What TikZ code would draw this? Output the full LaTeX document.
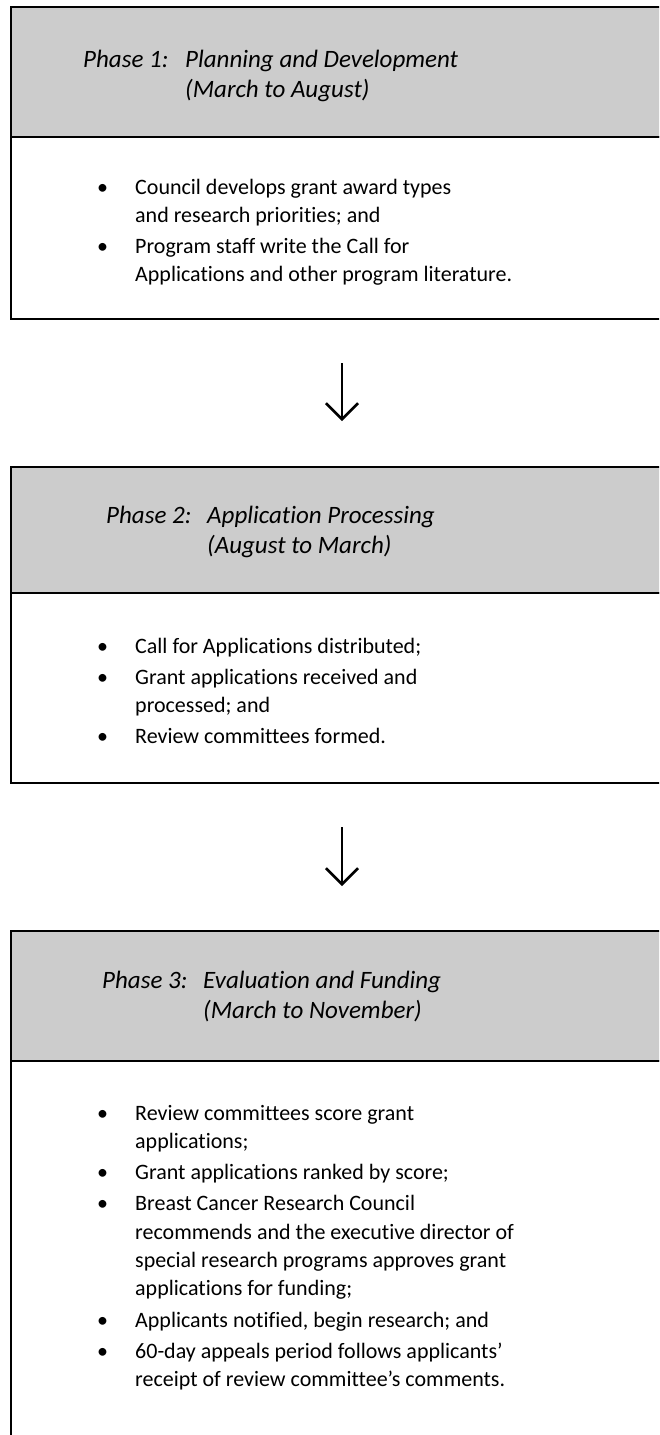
\documentclass[tikz,border=0pt]{standalone}
\usepackage{fontspec}
\setmainfont{Carlito}[Ligatures={TeX,NoCommon}]
\usetikzlibrary{arrows.meta}
\definecolor{headgray}{RGB}{204,204,204}
\begin{document}
\begin{tikzpicture}[x=1pt, y=1pt,
    phasehead/.style={draw, fill=headgray, line width=2pt, anchor=north west, minimum width=700pt, inner sep=0pt, outer sep=0pt},
    phasebody/.style={draw, line width=2pt, anchor=north west, minimum width=700pt, inner sep=0pt, outer sep=0pt},
    headtext/.style={anchor=base west, inner sep=0pt, font=\fontsize{25}{30.5}\selectfont\itshape},
    bodytext/.style={anchor=base west, inner sep=0pt, font=\fontsize{22}{28.3}\selectfont},
    flowarrow/.style={line width=2.5pt, -{Straight Barb[length=16pt, width=32pt, line width=2.5pt]}}]
    \useasboundingbox (0,0) rectangle (659,-1435);
    \clip (0,0) rectangle (659,-1435);
    \node[phasehead, minimum height=130pt] (head1) at (11,-7) {};
    \node[phasebody, minimum height=182pt] (body1) at (head1.south west) {};
    \node[phasehead, minimum height=126pt] (head2) at (11,-467) {};
    \node[phasebody, minimum height=190pt] (body2) at (head2.south west) {};
    \node[phasehead, minimum height=130pt] (head3) at (11,-931) {};
    \node[phasebody, minimum height=420pt] (body3) at (head3.south west) {};
    \node[headtext] (title1) at (83,-67) {\begin{tabular}[t]{@{}p{102pt}@{}l@{}}
        Phase 1: & Planning and Development\\
        & (March to August)
    \end{tabular}};
    \node[headtext] (title2) at (106,-523) {\begin{tabular}[t]{@{}p{101pt}@{}l@{}}
        Phase 2: & Application Processing\\
        & (August to March)
    \end{tabular}};
    \node[headtext] (title3) at (102,-988) {\begin{tabular}[t]{@{}p{101pt}@{}l@{}}
        Phase 3: & Evaluation and Funding\\
        & (March to November)
    \end{tabular}};
    \node[bodytext] (list1) at (97,-194) {\begin{tabular}[t]{@{}p{38pt}@{}l@{}}
        \textbullet & Council develops grant award types\\
        & and research priorities; and\\[3pt]
        \textbullet & Program staff write the Call for\\
        & Applications and other program literature.
    \end{tabular}};
    \node[bodytext] (list2) at (97,-653) {\begin{tabular}[t]{@{}p{38pt}@{}l@{}}
        \textbullet & Call for Applications distributed;\\[3pt]
        \textbullet & Grant applications received and\\
        & processed; and\\[3pt]
        \textbullet & Review committees formed.
    \end{tabular}};
    \node[bodytext] (list3) at (97,-1120) {\begin{tabular}[t]{@{}p{38pt}@{}l@{}}
        \textbullet & Review committees score grant\\
        & applications;\\[3pt]
        \textbullet & Grant applications ranked by score;\\[3pt]
        \textbullet & Breast Cancer Research Council\\
        & recommends and the executive director of\\
        & special research programs approves grant\\
        & applications for funding;\\[3pt]
        \textbullet & Applicants notified, begin research; and\\[3pt]
        \textbullet & 60-day appeals period follows applicants'\\
        & receipt of review committee's comments.
    \end{tabular}};
    \coordinate (gap1top) at (342,-363);
    \coordinate (gap1bot) at (342,-421);
    \coordinate (gap2top) at (342,-827);
    \coordinate (gap2bot) at (342,-886);
    \draw[flowarrow] (gap1top) -- (gap1bot);
    \draw[flowarrow] (gap2top) -- (gap2bot);
\end{tikzpicture}
\end{document}
